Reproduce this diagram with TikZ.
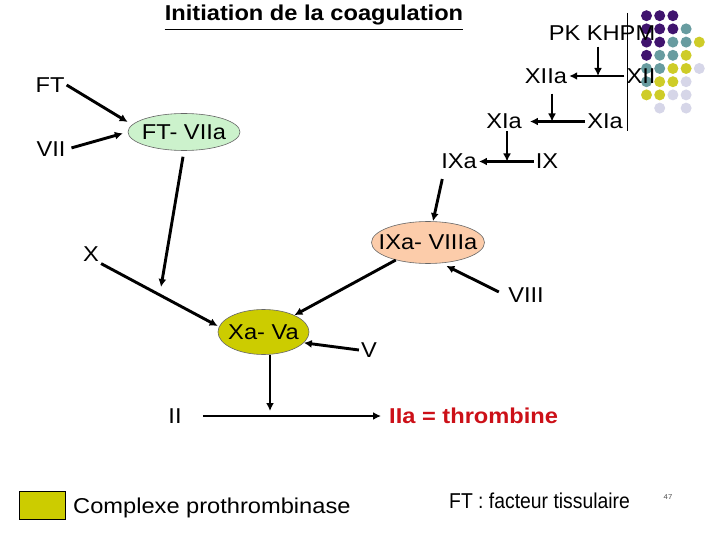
\documentclass[tikz,border=0pt]{standalone}
\usepackage{fontspec}
\setmainfont[FakeStretch=1.1]{Liberation Sans}
\newfontfamily\narrowfont[FakeStretch=0.9]{Liberation Sans}
\usetikzlibrary{shapes.geometric, arrows.meta}

\definecolor{ftvfill}{RGB}{204,242,204}
\definecolor{ixvfill}{RGB}{252,204,170}
\definecolor{prothcol}{RGB}{204,204,0}
\definecolor{thrombred}{RGB}{204,16,24}
\definecolor{dpurp}{RGB}{64,20,110}
\definecolor{dteal}{RGB}{104,156,160}
\definecolor{dyel}{RGB}{206,204,40}
\definecolor{dlav}{RGB}{214,214,232}

\begin{document}
\begin{tikzpicture}[x=1pt, y=-1pt, >={Latex[length=8pt,width=8pt]},
          font=\fontsize{21.5pt}{24pt}\selectfont,
          lbl/.style={inner sep=2pt},
          cplx/.style={draw=black!60, ellipse, inner xsep=-10pt, inner ysep=0pt, line width=0.6pt},
          arr/.style={->, line width=2.9pt}]
        \useasboundingbox (0,0) rectangle (720,540);
        % dot pattern, top right
        \foreach \r/\cols in {0/{0,1,2}, 1/{0,1,2,3}, 2/{0,1,2,3,4}, 3/{0,1,2,3},
                              4/{0,1,2,3,4}, 5/{0,1,2,3}, 6/{0,1,2,3}, 7/{1,3}} {
          \foreach \c in \cols {
            \pgfmathtruncatemacro\s{\c+\r}
            \ifnum\s<4 \def\dc{dpurp}\else\ifnum\s<6 \def\dc{dteal}\else\ifnum\s<8 \def\dc{dyel}\else\def\dc{dlav}\fi\fi\fi
            \fill[\dc] (646.5+13.2*\c, 15.7+13.2*\r) circle (5.5pt);
          }
        }
        \draw[line width=0.8pt] (627,13) -- (627,131);
        \node[inner sep=0pt, anchor=base, font=\fontsize{21.5pt}{24pt}\selectfont\bfseries] (title) at (314,21) {Initiation de la coagulation};
        \draw[line width=1.8pt] ([yshift=-8.5pt]title.base west) -- ([yshift=-8.5pt]title.base east);
        \node[lbl] (pk) at (602,33) {PK KHPM};
        \node[lbl] (xiia) at (546,76) {XIIa};
        \node[lbl] (xii) at (641,76) {XII};
        \node[lbl] (xia) at (504,121.5) {XIa};
        \node[lbl] (xib) at (605,121.5) {XIa};
        \node[lbl] (ixa) at (459,161.5) {IXa};
        \node[lbl] (ix) at (547,161.5) {IX};
        \node[lbl] (ft) at (50,85) {FT};
        \node[lbl] (vii) at (51,149) {VII};
        \node[lbl] (x) at (91,254) {X};
        \node[lbl] (viii) at (526,295.5) {VIII};
        \node[lbl] (v) at (369,350) {V};
        \node[lbl] (ii) at (175,416) {II};
        \node[lbl, anchor=west, text=thrombred, font=\fontsize{21.5pt}{24pt}\selectfont\bfseries] (iia) at (387,416) {IIa = thrombine};
        \node[cplx, fill=ftvfill, minimum width=112pt, minimum height=37pt] (ftv) at (184,132) {FT- VIIa};
        \node[cplx, fill=ixvfill, minimum width=113pt, minimum height=42pt] (ixav) at (428,242.5) {IXa- VIIIa};
        \node[cplx, fill=prothcol, minimum width=91pt, minimum height=45pt] (xav) at (263.5,332) {Xa- Va};
        \coordinate (j1) at (598,76);
        \coordinate (j2) at (552,121.5);
        \coordinate (j3) at (507,161.5);
        \coordinate (j4) at (270,416);
        \coordinate (c1) at (161,287);
        % cascade
        \draw[arr] (xii) -- (xiia);
        \draw[arr, shorten <=4pt] (pk.south -| j1) -- (j1);
        \draw[arr, shorten >=6pt] (xib) -- (xia);
        \draw[arr, shorten <=8pt] (xiia.south -| j2) -- (j2);
        \draw[arr] (ix) -- (ixa);
        \draw[arr] (xia.south -| j3) -- (j3);
        \draw[arr, shorten <=8pt] ([xshift=-15pt]ixa.south) -- ([xshift=5pt]ixav.north);
        \draw[arr] (ft.east) -- ([yshift=10pt]ftv.west);
        \draw[arr, shorten <=4pt, shorten >=5pt] (vii.east) -- (ftv.west);
        \draw[arr, shorten <=6pt] (ftv.south) -- (c1);
        \draw[arr] (x.south east) -- ([yshift=6pt]xav.west);
        \draw[arr] (ixav) -- (xav);
        \draw[arr, shorten <=8pt, shorten >=6pt] (viii.west) -- (ixav.-58);
        \draw[arr] (v.west) -- (xav.-15);
        \draw[arr, shorten >=5pt] (xav.south -| j4) -- (j4);
        \draw[arr, shorten <=19pt, shorten >=6pt] (ii) -- (iia);
        % legend
        \node[draw, fill=prothcol, minimum width=45.7pt, minimum height=28.3pt, inner sep=0pt, line width=0.6pt] (leg) at (42.2,505) {};
        \node[anchor=base west, inner sep=0pt] (legtxt) at (73,513) {Complexe prothrombinase};
        \node[anchor=base west, inner sep=0pt, font=\narrowfont\fontsize{21.5pt}{24pt}\selectfont] (ftdef) at (449,508) {FT : facteur tissulaire};
        \node[font=\fontsize{7pt}{8pt}\selectfont, text=black!70] (pg) at (668,497) {47};
      \end{tikzpicture}
\end{document}
